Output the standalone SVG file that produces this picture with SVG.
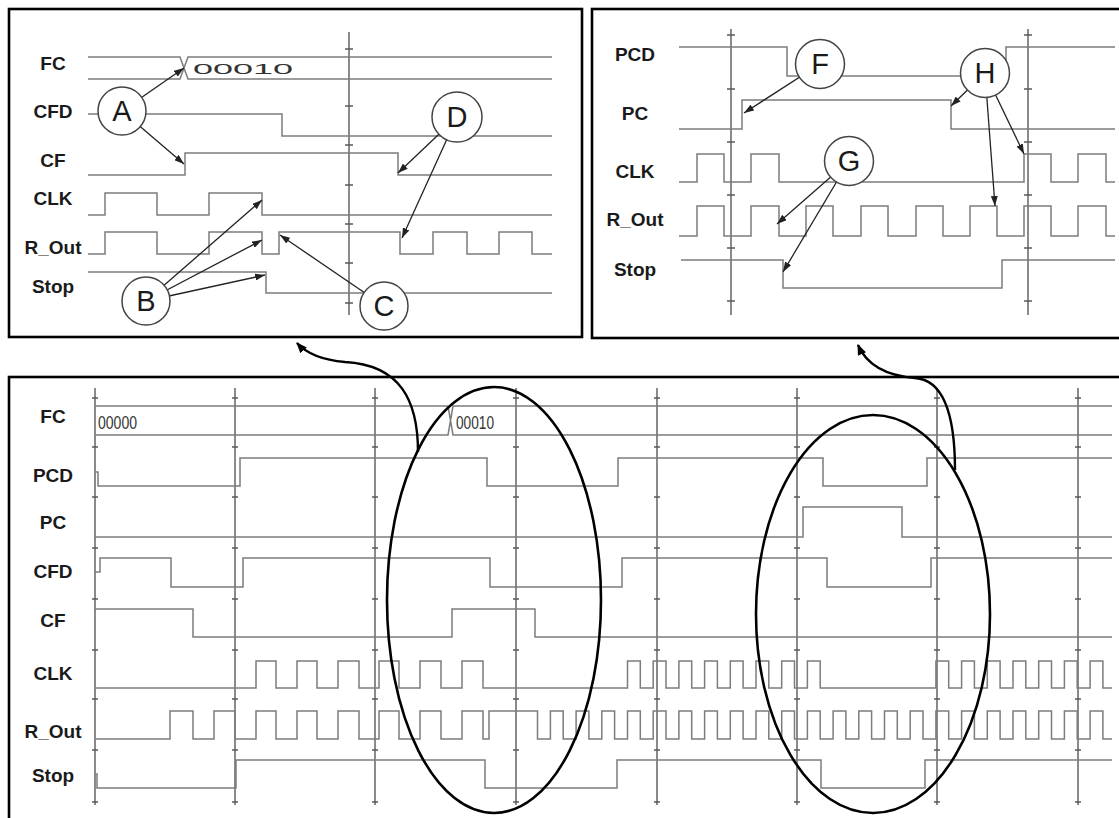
<svg xmlns="http://www.w3.org/2000/svg" width="1119" height="818" viewBox="0 0 1119 818">
<defs>
<style>
.sig{fill:none;stroke:#7c7c7c;stroke-width:1.5}
.grid{fill:none;stroke:#5a5a5a;stroke-width:1.4}
.frame{fill:none;stroke:#000;stroke-width:2.6}
.lbl{font-family:"Liberation Sans",Arial,sans-serif;font-weight:bold;font-size:19px;fill:#1a1a1a;text-anchor:middle}
.bus{font-family:"Liberation Sans",Arial,sans-serif;fill:#333}
.ann circle{fill:#fff;stroke:#444;stroke-width:1.5}
.ann text{font-family:"Liberation Sans",Arial,sans-serif;font-size:29px;fill:#1a1a1a;text-anchor:middle}
.arr{fill:none;stroke:#222;stroke-width:1.3;marker-end:url(#ah)}
.big{fill:none;stroke:#000;stroke-width:2.6}
.bigarr{fill:none;stroke:#000;stroke-width:2.4;marker-end:url(#bh)}
</style>
<marker id="ah" viewBox="0 0 10 7" refX="10" refY="3.5" markerWidth="10" markerHeight="7" markerUnits="userSpaceOnUse" orient="auto"><path d="M0,0 L10,3.5 L0,7 z" fill="#222"/></marker>
<marker id="bh" viewBox="0 0 10 8" refX="9" refY="4" markerWidth="11" markerHeight="9" markerUnits="userSpaceOnUse" orient="auto"><path d="M0,0 L10,4 L0,8 z" fill="#000"/></marker>
</defs>
<rect width="1119" height="818" fill="#fff"/>

<!-- Top-left panel -->
<g id="panel-top-left">
<rect class="frame" x="9" y="9" width="573" height="328"/>
<g class="lbl">
<text x="53" y="70">FC</text>
<text x="53" y="118">CFD</text>
<text x="53" y="167">CF</text>
<text x="53" y="205">CLK</text>
<text x="53" y="254">R_Out</text>
<text x="53" y="293">Stop</text>
</g>
<path class="grid" d="M349,32 V315 M345,49 H353 M345,106 H353 M345,145 H353 M345,185 H353 M345,224 H353 M345,263 H353 M345,303 H353"/>
<path class="sig" d="M88,57 H180 L188,79 H552 M88,79 H180 L188,57 H552"/>
<text class="bus" x="193" y="74" font-size="15" textLength="100" lengthAdjust="spacingAndGlyphs">00010</text>
<path class="sig" d="M88,114 H282 V136 H552"/>
<path class="sig" d="M88,175 H185 V153 H398 V175 H552"/>
<path class="sig" d="M88,215 H105 V193 H157 V215 H209 V193 H262 V215 H552"/>
<path class="sig" d="M88,254 H105 V232 H157 V254 H209 V232 H262 V254 H279 V232 H400 V254 H433 V232 H467 V254 H499 V232 H532 V254 H552"/>
<path class="sig" d="M88,272 H266 V293 H552"/>
</g>

<!-- Top-right panel -->
<g id="panel-top-right">
<rect class="frame" x="592" y="9" width="540" height="329"/>
<g class="lbl">
<text x="635" y="61">PCD</text>
<text x="635" y="120">PC</text>
<text x="635" y="178">CLK</text>
<text x="635" y="226">R_Out</text>
<text x="635" y="276">Stop</text>
</g>
<path class="grid" d="M731,29 V315 M1028,29 V315 M727,35 H735 M727,89 H735 M727,142 H735 M727,195 H735 M727,248 H735 M727,301 H735 M1024,35 H1032 M1024,89 H1032 M1024,142 H1032 M1024,195 H1032 M1024,248 H1032 M1024,301 H1032"/>
<path class="sig" d="M679,47 H787 V76 H1006 V47 H1115"/>
<path class="sig" d="M679,129 H742 V100 H951 V129 H1115"/>
<path class="sig" d="M679,182 H697 V154 H724 V182 H751 V154 H779 V182 H1024 V154 H1051 V182 H1078 V154 H1106 V182 H1115"/>
<path class="sig" d="M679,236 H697 V206 H724 V236 H751 V206 H779 V236 H806 V206 H833 V236 H861 V206 H888 V236 H916 V206 H943 V236 H970 V206 H997 V236 H1024 V206 H1051 V236 H1078 V206 H1106 V236 H1115"/>
<path class="sig" d="M681,260 H783 V288 H1002 V260 H1115"/>
</g>

<!-- Bottom panel -->
<g id="panel-bottom">
<rect class="frame" x="9" y="377" width="1120" height="460"/>
<g class="lbl">
<text x="53" y="423">FC</text>
<text x="53" y="482">PCD</text>
<text x="53" y="529">PC</text>
<text x="53" y="578">CFD</text>
<text x="53" y="627">CF</text>
<text x="53" y="680">CLK</text>
<text x="53" y="738">R_Out</text>
<text x="53" y="782">Stop</text>
</g>
<path class="grid" d="M95,388 V805 M235,388 V805 M375,388 V805 M516,388 V805 M657,388 V805 M797,388 V805 M937,388 V805 M1078,388 V805"/>
<g class="grid">
<path d="M92,398 H98 M92,447 H98 M92,497 H98 M92,548 H98 M92,599 H98 M92,650 H98 M92,699 H98 M92,750 H98 M92,802 H98"/>
<path d="M232,398 H238 M232,447 H238 M232,497 H238 M232,548 H238 M232,599 H238 M232,650 H238 M232,699 H238 M232,750 H238 M232,802 H238"/>
<path d="M372,398 H378 M372,447 H378 M372,497 H378 M372,548 H378 M372,599 H378 M372,650 H378 M372,699 H378 M372,750 H378 M372,802 H378"/>
<path d="M513,398 H519 M513,447 H519 M513,497 H519 M513,548 H519 M513,599 H519 M513,650 H519 M513,699 H519 M513,750 H519 M513,802 H519"/>
<path d="M654,398 H660 M654,447 H660 M654,497 H660 M654,548 H660 M654,599 H660 M654,650 H660 M654,699 H660 M654,750 H660 M654,802 H660"/>
<path d="M794,398 H800 M794,447 H800 M794,497 H800 M794,548 H800 M794,599 H800 M794,650 H800 M794,699 H800 M794,750 H800 M794,802 H800"/>
<path d="M934,398 H940 M934,447 H940 M934,497 H940 M934,548 H940 M934,599 H940 M934,650 H940 M934,699 H940 M934,750 H940 M934,802 H940"/>
<path d="M1075,398 H1081 M1075,447 H1081 M1075,497 H1081 M1075,548 H1081 M1075,599 H1081 M1075,650 H1081 M1075,699 H1081 M1075,750 H1081 M1075,802 H1081"/>
</g>
<path class="sig" d="M95,406 H448 L453,435 H1112 M95,435 H448 L453,406 H1112"/>
<text class="bus" x="98" y="429" font-size="18" textLength="39" lengthAdjust="spacingAndGlyphs">00000</text>
<text class="bus" x="456" y="429" font-size="18" textLength="38" lengthAdjust="spacingAndGlyphs">00010</text>
<path class="sig" d="M95,472 H98 V486 H240 V458 H487 V486 H618 V458 H823 V486 H927 V458 H1112"/>
<path class="sig" d="M95,537 H803 V507 H902 V537 H1112"/>
<path class="sig" d="M95,572 H100 V558 H171 V587 H243 V558 H490 V587 H622 V558 H827 V587 H931 V558 H1112"/>
<path class="sig" d="M95,609 H193 V637 H452 V609 H535 V637 H1112"/>
<path class="sig" d="M95,688 H256 V661 H276 V688 H297 V661 H317 V688 H338 V661 H359 V688 H379 V661 H399 V688 H420 V661 H441 V688 H462 V661 H483 V688 H627.5 V661 H640.3 V688 H653.2 V661 H666 V688 H678.9 V661 H691.7 V688 H704.6 V661 H717.4 V688 H730.3 V661 H743.1 V688 H756 V661 H768.8 V688 H781.7 V661 H794.5 V688 H807.4 V661 H820.2 V688 H935.9 V661 H948.7 V688 H961.6 V661 H974.4 V688 H987.3 V661 H1000.1 V688 H1013 V661 H1025.8 V688 H1038.7 V661 H1051.5 V688 H1064.4 V661 H1077.2 V688 H1090.1 V661 H1102.9 V688 H1112"/>
<path class="sig" d="M95,739 H170 V711 H193 V739 H214 V711 H235 V739 H256 V711 H276 V739 H297 V711 H317 V739 H338 V711 H359 V739 H379 V711 H399 V739 H420 V711 H441 V739 H462 V711 H483 V739 H489 V711 H537.5 V739 H550.4 V711 H563.2 V739 H576.1 V711 H588.9 V739 H601.8 V711 H614.6 V739 H627.5 V711 H640.3 V739 H653.2 V711 H666 V739 H678.9 V711 H691.7 V739 H704.6 V711 H717.4 V739 H730.3 V711 H743.1 V739 H756 V711 H768.8 V739 H781.7 V711 H794.5 V739 H807.4 V711 H820.2 V739 H833.1 V711 H845.9 V739 H858.8 V711 H871.6 V739 H884.5 V711 H897.3 V739 H910.2 V711 H923 V739 H935.9 V711 H948.7 V739 H961.6 V711 H974.4 V739 H987.3 V711 H1000.1 V739 H1013 V711 H1025.8 V739 H1038.7 V711 H1051.5 V739 H1064.4 V711 H1077.2 V739 H1090.1 V711 H1102.9 V739 H1112"/>
<path class="sig" d="M95,774 H97 V788 H236 V760 H485 V788 H617 V760 H821 V788 H925 V760 H1112"/>
</g>

<!-- Connectors -->
<g id="connectors">
<path class="arr" d="M122,111 L184,68"/>
<path class="arr" d="M122,111 L184,164"/>
<path class="arr" d="M146,301 L262,200"/>
<path class="arr" d="M146,301 L262,240"/>
<path class="arr" d="M146,301 L265,275"/>
<path class="arr" d="M384,306 L280,235"/>
<path class="arr" d="M457,117 L398,173"/>
<path class="arr" d="M457,117 L402,238"/>
<path class="arr" d="M820,64 L744,113"/>
<path class="arr" d="M985,73 L951,106"/>
<path class="arr" d="M985,73 L995,206"/>
<path class="arr" d="M985,73 L1024,154"/>
<path class="arr" d="M849,161 L777,224"/>
<path class="arr" d="M849,161 L783,272"/>
<ellipse class="big" cx="494" cy="600" rx="107" ry="213"/>
<ellipse class="big" cx="873" cy="614" rx="117" ry="199"/>
<path class="bigarr" d="M418,452 C418,400 400,365 345,362 C322,360 306,353 297,343"/>
<path class="bigarr" d="M955,470 C955,420 945,380 915,378 C890,376 868,368 858,345"/>
</g>

<!-- Annotation nodes -->
<g id="node-A" class="ann"><circle cx="122" cy="111" r="24"/><text x="122" y="121">A</text></g>
<g id="node-B" class="ann"><circle cx="146" cy="301" r="24"/><text x="146" y="311">B</text></g>
<g id="node-C" class="ann"><circle cx="384" cy="306" r="24"/><text x="384" y="316">C</text></g>
<g id="node-D" class="ann"><circle cx="457" cy="117" r="25"/><text x="457" y="127">D</text></g>
<g id="node-F" class="ann"><circle cx="820" cy="64" r="24.5"/><text x="820" y="74">F</text></g>
<g id="node-H" class="ann"><circle cx="985" cy="73" r="24.5"/><text x="985" y="83">H</text></g>
<g id="node-G" class="ann"><circle cx="849" cy="161" r="24.5"/><text x="849" y="171">G</text></g>
</svg>
